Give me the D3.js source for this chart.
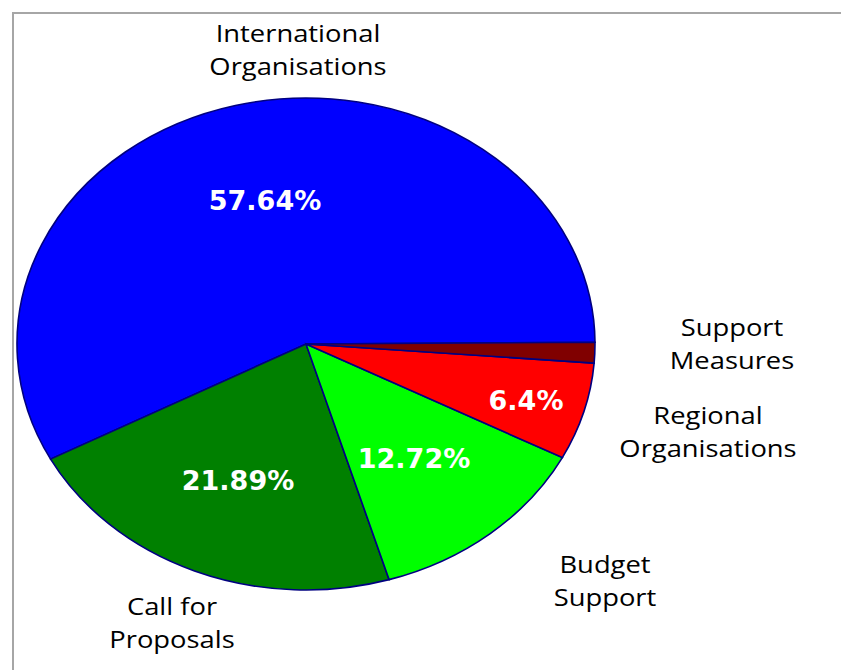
<!DOCTYPE html>
<html>
<head>
<meta charset="utf-8">
<script src="https://cdn.jsdelivr.net/npm/d3@7"></script>
<style>
  body { margin: 0; background: #fff; }
  svg { display: block; }
</style>
</head>
<body>
<svg id="chart" width="841" height="670"></svg>
<script>
const categories = ["International Organisations", "Call for Proposals", "Budget Support", "Regional Organisations", "Support Measures"];
const shares = [57.64, 21.89, 12.72, 6.4, 1.35];
const valueLabels = ["57.64%", "21.89%", "12.72%", "6.4%", ""];
const colors = ["#0000FF", "#008000", "#00FF00", "#FF0000", "#800000"];

const svg = d3.select("#chart");
const cx = 306, cy = 344;
const rx = 289, ry = 246;

// chart frame (right and bottom edges run off the picture)
svg.append("rect")
    .attr("x", 13).attr("y", 13)
    .attr("width", 840).attr("height", 670)
    .attr("fill", "none")
    .attr("stroke", "#A6A6A6")
    .attr("stroke-width", 2);

const table = categories.map((c, i) => ({ name: c, value: shares[i], label: valueLabels[i], color: colors[i] }));

// slices drawn counter-clockwise from just above 3 o'clock
const start = 89.6 * Math.PI / 180;
const pie = d3.pie()
    .sort(null)
    .value(d => d.value)
    .startAngle(start + 2 * Math.PI)
    .endAngle(start);

const arcs = pie(table);
const arc = d3.arc().innerRadius(0).outerRadius(rx);

const g = svg.append("g")
    .attr("transform", `translate(${cx},${cy}) scale(1,${ry / rx})`);

g.selectAll("path")
    .data(arcs)
    .join("path")
    .attr("d", arc)
    .attr("fill", d => d.data.color)
    .attr("stroke", "#000080")
    .attr("stroke-width", 1.6)
    .attr("vector-effect", "non-scaling-stroke");

// value labels inside slices
const valuePos = [[265, 200], [238, 480], [414, 458], [526, 400], [0, 0]];
svg.selectAll("text.value")
    .data(arcs.filter(d => d.data.label))
    .join("text")
    .attr("class", "value")
    .attr("x", d => valuePos[d.index][0])
    .attr("y", d => valuePos[d.index][1])
    .attr("dy", "0.36em")
    .attr("text-anchor", "middle")
    .attr("fill", "#fff")
    .attr("font-family", "DejaVu Sans")
    .attr("font-weight", "bold")
    .attr("font-size", 27)
    .text(d => d.data.label);

// category labels outside
const namePos = [[298, 33], [172, 606], [605, 564], [708, 415], [732, 327]];
const nameLines = [["International", "Organisations"], ["Call for", "Proposals"], ["Budget", "Support"], ["Regional", "Organisations"], ["Support", "Measures"]];
arcs.forEach(d => {
    const [x, y] = namePos[d.index];
    const t = svg.append("text")
        .attr("text-anchor", "middle")
        .attr("font-family", "Open Sans")
        .attr("font-size", 24)
        .attr("fill", "#000")
        .attr("transform", `translate(${x},${y}) scale(1.14,1)`);
    nameLines[d.index].forEach((line, j) => {
        t.append("tspan")
            .attr("x", 0)
            .attr("y", j * 33)
            .attr("dy", "0.36em")
            .text(line);
    });
});
</script>
</body>
</html>
